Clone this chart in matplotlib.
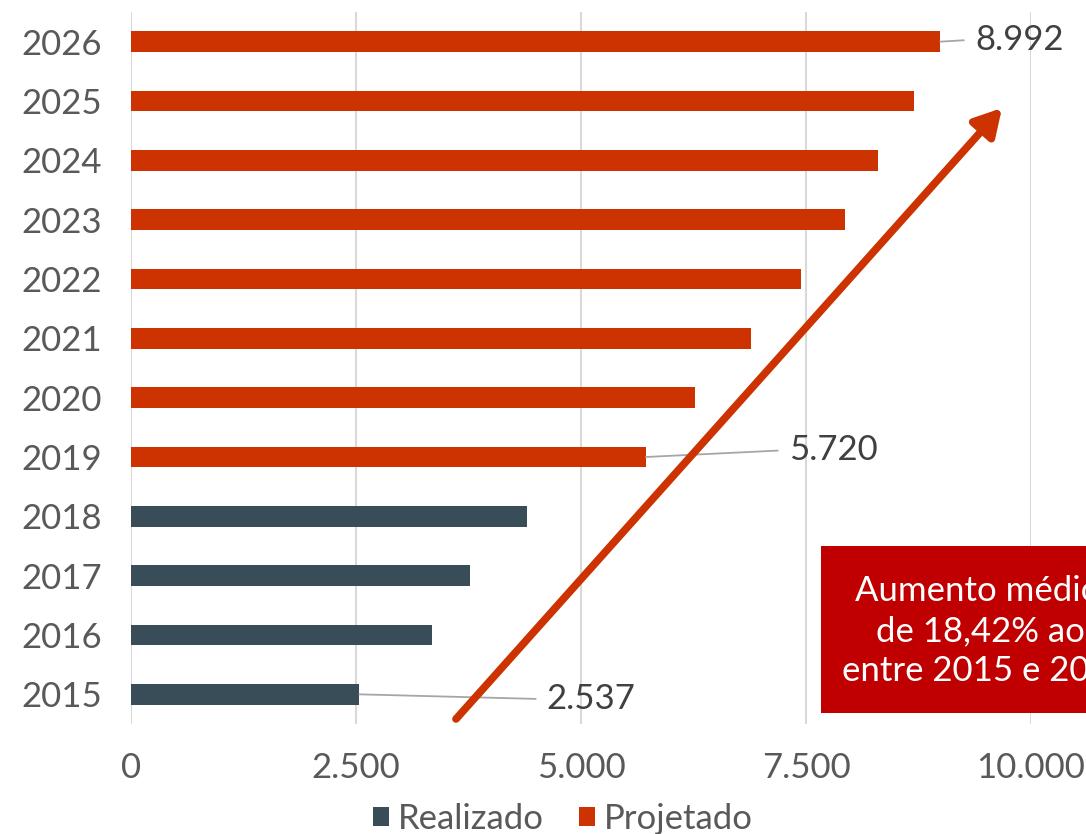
import matplotlib.pyplot as plt
from matplotlib.patches import Rectangle, Patch

plt.rcParams['font.family'] = ['Lato', 'DejaVu Sans']

# data
anos = ['2015', '2016', '2017', '2018', '2019', '2020',
        '2021', '2022', '2023', '2024', '2025', '2026']
realizado = [2537, 3345, 3768, 4400]
projetado = [5720, 6265, 6885, 7440, 7930, 8305, 8695, 8992]
rotulos = {0: '2.537', 4: '5.720', 11: '8.992'}
xticks = [0, 2500, 5000, 7500, 10000]
xtick_labels = ['0', '2.500', '5.000', '7.500', '10.000']

cor_real = '#394D58'
cor_proj = '#CC3300'
cinza_txt = '#595959'

fig = plt.figure(figsize=(10.86, 8.34), dpi=100)
W, H = 1086, 834
ax = fig.add_axes([131 / W, (H - 724) / H, 900 / W, 712 / H])

pos = list(range(len(anos)))
ax.barh(pos[:4], realizado, height=0.35, color=cor_real, label='Realizado', zorder=3)
ax.barh(pos[4:], projetado, height=0.35, color=cor_proj, label='Projetado', zorder=3)

ax.set_xlim(0, 10000)
ax.set_ylim(-0.5, 11.5)
ax.set_yticks(pos)
ax.set_yticklabels(anos)
ax.set_xticks(xticks)
ax.set_xticklabels(xtick_labels)
ax.tick_params(axis='both', length=0, labelsize=25, colors=cinza_txt)
ax.tick_params(axis='y', pad=21)
ax.tick_params(axis='x', pad=20)
for s in ax.spines.values():
    s.set_visible(False)
ax.grid(axis='x', color='#D9D9D9', linewidth=1.5, zorder=0)

# data labels with leader lines
valores = realizado + projetado
offsets = {0: (135, -3.5), 4: (103, 5), 11: (25, 1.5)}
for i, txt in rotulos.items():
    ax.annotate(txt, xy=(valores[i], i), xytext=offsets[i], textcoords='offset points',
                ha='left', va='center', fontsize=25, color='#404040',
                arrowprops=dict(arrowstyle='-', color='#A6A6A6', lw=1.3,
                                shrinkA=6, shrinkB=0, relpos=(0, 0.5)),
                zorder=5)

# trend arrow (figure pixel coords)
fig_px = lambda x, y: (x / W, (H - y) / H)
ax.annotate('', xy=fig_px(1002, 108), xytext=fig_px(456, 719),
            xycoords='figure fraction', textcoords='figure fraction',
            arrowprops=dict(arrowstyle='-|>,head_length=1.6,head_width=0.9',
                            color=cor_proj, lw=5.5, shrinkA=0, shrinkB=0),
            zorder=6)

# red box (runs off the right edge, as in the original)
bx, by = fig_px(821, 713)
fig.patches.append(Rectangle((bx, by), (W - 821 + 50) / W, 167 / H,
                             transform=fig.transFigure, facecolor='#C00000',
                             edgecolor='none', zorder=7))
linhas = [('Aumento médio', 855, 601), ('de 18,42% ao ano', 876, 641),
          ('entre 2015 e 2026', 842, 681)]
for t, x, y in linhas:
    fx, fy = fig_px(x, y)
    fig.text(fx, fy, t, ha='left', va='baseline', fontsize=25, color='white', zorder=8)

# legend
handles = [Patch(facecolor=cor_real), Patch(facecolor=cor_proj)]
fig.legend(handles, ['Realizado', 'Projetado'], loc='center',
           bbox_to_anchor=(563 / W, (H - 819) / H), ncol=2, frameon=False,
           fontsize=25, labelcolor=cinza_txt, handlelength=0.46, handleheight=0.46,
           handletextpad=0.25, columnspacing=1.0, borderpad=0)

fig.savefig('out.png', dpi=100)
